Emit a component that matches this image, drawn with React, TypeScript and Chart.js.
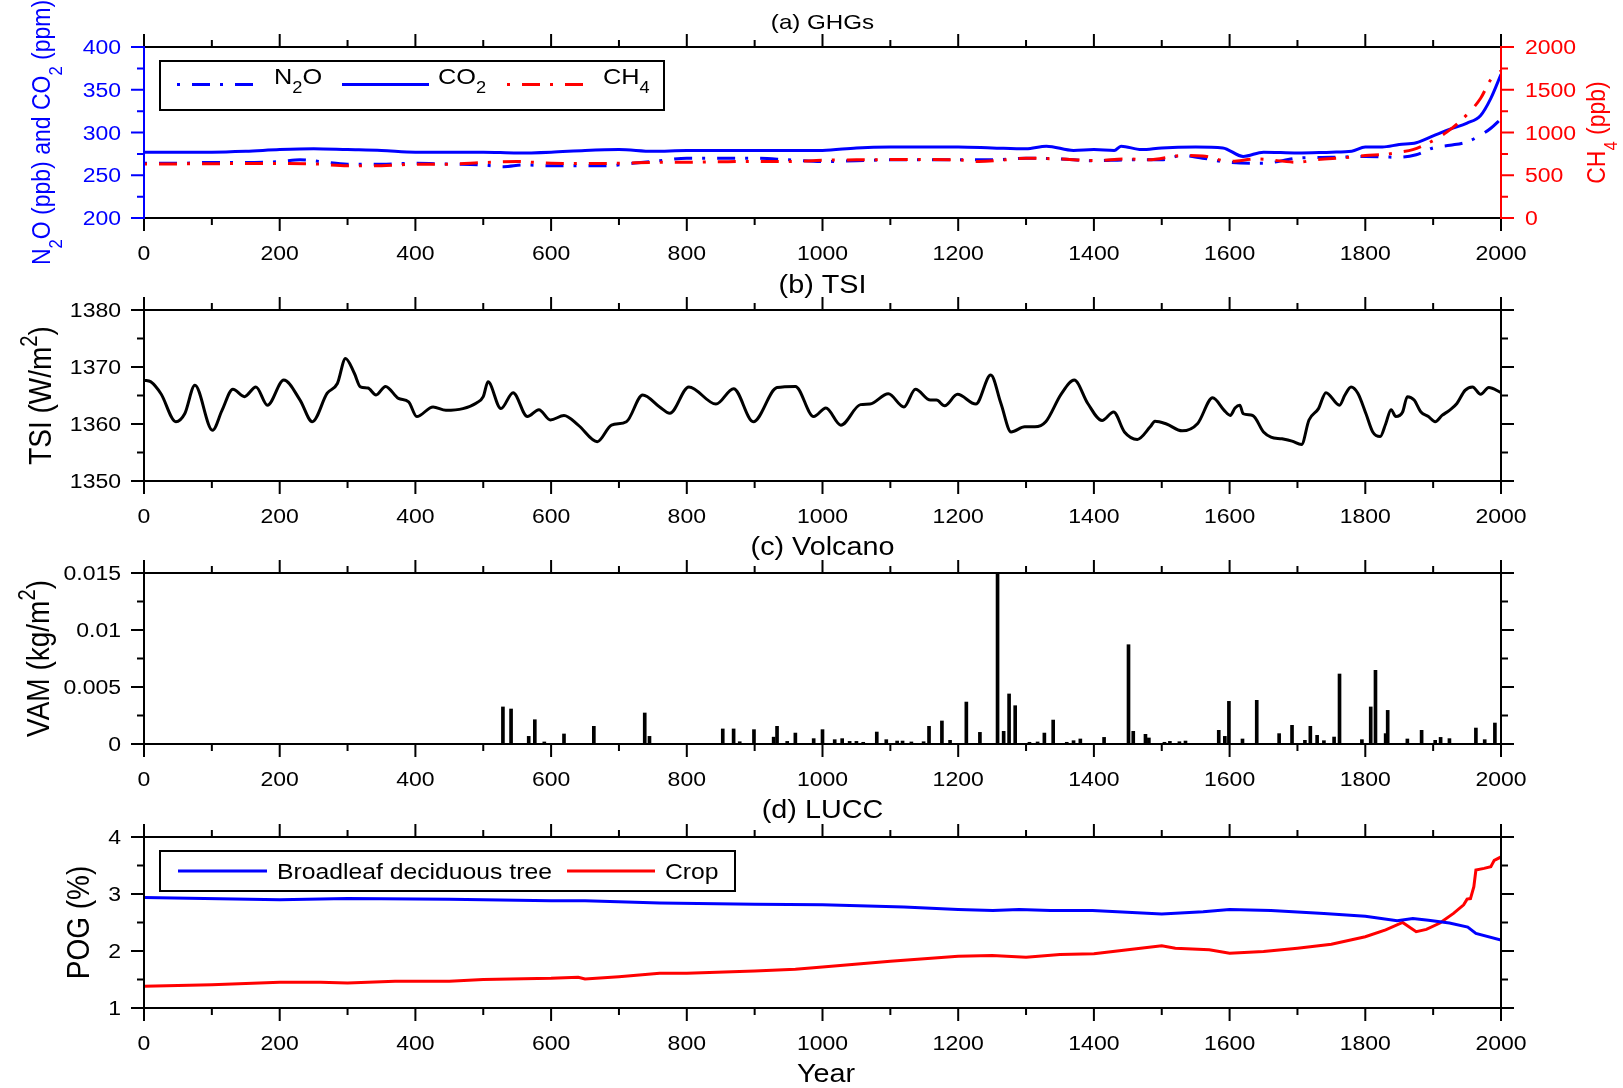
import React, { useEffect, useRef } from "react";
import { Chart, registerables } from "chart.js";
Chart.register(...registerables);

// ---------------- data ----------------
const co2Years = [0, 50, 100, 150, 200, 250, 300, 350, 400, 450, 500, 550, 600, 650, 700, 750, 800, 850, 900, 950, 1000, 1050, 1100, 1150, 1200, 1250, 1300, 1330, 1370, 1400, 1430, 1440, 1470, 1500, 1550, 1590, 1620, 1650, 1700, 1750, 1780, 1800, 1825, 1850, 1875, 1900, 1925, 1950, 1970, 1985, 2000];
const co2Values = [277, 277, 277, 278, 280, 281, 280, 279, 277, 277, 277, 276, 277, 279, 280, 278, 279, 279, 279, 279, 279, 282, 283, 283, 283, 282, 281, 284, 279, 280, 279, 284, 280, 282, 283, 282, 272, 277, 276, 277, 278, 283, 283, 286, 288, 296, 304, 311, 320, 340, 368];

const n2oYears = [0, 50, 100, 150, 200, 230, 260, 300, 350, 400, 450, 500, 530, 560, 600, 650, 680, 720, 760, 800, 850, 900, 950, 1000, 1050, 1100, 1150, 1200, 1250, 1300, 1350, 1400, 1450, 1500, 1530, 1560, 1600, 1650, 1700, 1750, 1800, 1850, 1875, 1900, 1925, 1950, 1970, 1985, 2000];
const n2oValues = [264, 264, 265, 265, 266, 268, 266, 263, 263, 264, 263, 262, 260, 262, 261, 261, 261, 264, 267, 270, 270, 270, 268, 266, 267, 268, 268, 268, 268, 270, 269, 267, 268, 268, 273, 270, 265, 264, 270, 271, 272, 271, 274, 282, 285, 289, 297, 305, 316];

const ch4Years = [0, 50, 100, 150, 200, 250, 300, 350, 400, 450, 500, 550, 600, 650, 700, 750, 800, 850, 900, 950, 1000, 1050, 1100, 1150, 1200, 1230, 1270, 1300, 1350, 1400, 1450, 1480, 1530, 1560, 1600, 1640, 1700, 1730, 1770, 1800, 1830, 1850, 1870, 1900, 1920, 1950, 1970, 1985, 2000];
const ch4Values = [633, 633, 635, 638, 638, 633, 612, 612, 630, 630, 648, 660, 640, 638, 640, 650, 652, 658, 662, 660, 675, 680, 683, 683, 680, 660, 680, 700, 690, 672, 690, 680, 730, 725, 663, 690, 652, 684, 705, 730, 745, 770, 800, 906, 1004, 1210, 1400, 1620, 1720];

const tsiYears = [0, 10, 25, 47, 60, 75, 101, 115, 131, 148, 165, 182, 206, 230, 248, 270, 285, 297, 310, 319, 330, 342, 356, 375, 390, 402, 426, 445, 470, 490, 500, 507, 526, 544, 565, 582, 599, 619, 640, 668, 689, 711, 735, 760, 775, 803, 843, 869, 898, 933, 960, 987, 1005, 1027, 1056, 1070, 1097, 1120, 1137, 1159, 1168, 1180, 1199, 1226, 1248, 1263, 1278, 1298, 1313, 1329, 1352, 1371, 1391, 1412, 1429, 1445, 1464, 1483, 1490, 1507, 1530, 1553, 1575, 1592, 1601, 1608, 1615, 1620, 1634, 1650, 1661, 1677, 1692, 1706, 1717, 1731, 1742, 1762, 1770, 1779, 1789, 1801, 1811, 1822, 1830, 1838, 1845, 1855, 1862, 1872, 1882, 1893, 1903, 1913, 1924, 1935, 1947, 1958, 1970, 1982, 2000];
const tsiValues = [1367.7, 1367.4, 1365.3, 1360.4, 1361.8, 1366.8, 1358.9, 1362.4, 1366.1, 1364.8, 1366.5, 1363.3, 1367.7, 1364.2, 1360.4, 1365.4, 1367.1, 1371.5, 1368.9, 1366.5, 1366.3, 1365.1, 1366.6, 1364.5, 1363.9, 1361.3, 1363.0, 1362.4, 1362.7, 1363.7, 1364.8, 1367.4, 1362.7, 1365.5, 1361.3, 1362.5, 1360.7, 1361.5, 1359.8, 1356.9, 1359.8, 1360.4, 1365.1, 1363.0, 1361.9, 1366.5, 1363.5, 1366.2, 1360.4, 1366.4, 1366.6, 1361.3, 1362.8, 1359.8, 1363.4, 1363.5, 1365.3, 1363.0, 1366.1, 1364.2, 1364.2, 1363.2, 1365.2, 1363.5, 1368.6, 1363.6, 1358.6, 1359.5, 1359.5, 1360.4, 1365.3, 1367.7, 1363.6, 1360.6, 1362.1, 1358.6, 1357.3, 1359.5, 1360.5, 1360.0, 1358.8, 1360.1, 1364.6, 1362.4, 1361.5, 1362.8, 1363.3, 1361.8, 1361.5, 1358.6, 1357.7, 1357.4, 1357.0, 1356.4, 1360.7, 1362.7, 1365.5, 1363.3, 1365.1, 1366.5, 1365.4, 1361.8, 1358.6, 1357.8, 1360.0, 1362.5, 1361.3, 1362.1, 1364.8, 1364.2, 1362.1, 1361.3, 1360.4, 1361.5, 1362.4, 1363.6, 1365.9, 1366.5, 1365.2, 1366.4, 1365.5];

const volcYears = [529, 541, 567, 576, 590, 619, 663, 738, 745, 853, 869, 878, 899, 928, 933, 948, 960, 987, 1000, 1018, 1029, 1040, 1050, 1060, 1080, 1094, 1110, 1118, 1131, 1149, 1157, 1176, 1188, 1212, 1232, 1258, 1267, 1275, 1284, 1305, 1317, 1327, 1340, 1360, 1370, 1380, 1415, 1451, 1458, 1476, 1481, 1504, 1512, 1526, 1535, 1584, 1593, 1599, 1619, 1640, 1673, 1692, 1711, 1719, 1729, 1739, 1754, 1762, 1795, 1808, 1815, 1830, 1833, 1862, 1883, 1903, 1911, 1924, 1963, 1976, 1991];
const volcValues = [0.00325, 0.00307, 0.00067, 0.00213, 0.00018, 0.00088, 0.00155, 0.00272, 0.00067, 0.00132, 0.00132, 0.0002, 0.00126, 0.0006, 0.00155, 0.00023, 0.00096, 0.00047, 0.00126, 0.00038, 0.00047, 0.00023, 0.00023, 0.00015, 0.00105, 0.00038, 0.00026, 0.00026, 0.00018, 0.0002, 0.00155, 0.00202, 0.00032, 0.00368, 0.00102, 0.015, 0.00111, 0.00439, 0.00336, 0.00015, 0.00018, 0.00096, 0.0021, 0.00015, 0.00029, 0.00044, 0.00058, 0.00871, 0.00111, 0.00085, 0.00053, 0.00015, 0.00023, 0.0002, 0.00026, 0.0012, 0.00067, 0.00374, 0.00044, 0.00383, 0.00091, 0.00164, 0.00032, 0.00155, 0.00076, 0.00029, 0.00061, 0.00614, 0.00038, 0.00325, 0.00646, 0.00091, 0.00295, 0.00044, 0.0012, 0.00032, 0.00058, 0.00047, 0.0014, 0.00038, 0.00184];

const treeYears = [0, 200, 300, 450, 600, 650, 760, 900, 1000, 1120, 1200, 1251, 1290, 1336, 1398, 1500, 1561, 1600, 1661, 1739, 1800, 1847, 1870, 1893, 1924, 1951, 1963, 2000];
const treeValues = [2.94, 2.90, 2.92, 2.91, 2.88, 2.88, 2.84, 2.82, 2.81, 2.77, 2.73, 2.71, 2.73, 2.71, 2.71, 2.65, 2.69, 2.73, 2.71, 2.66, 2.61, 2.53, 2.57, 2.54, 2.49, 2.42, 2.31, 2.19];

const cropYears = [0, 100, 200, 260, 300, 370, 450, 500, 600, 640, 650, 700, 760, 800, 900, 960, 1000, 1100, 1200, 1250, 1300, 1350, 1400, 1450, 1500, 1520, 1570, 1600, 1650, 1700, 1750, 1800, 1830, 1855, 1875, 1890, 1910, 1930, 1945, 1950, 1955, 1960, 1963, 1975, 1985, 1990, 2000];
const cropValues = [1.38, 1.41, 1.45, 1.45, 1.44, 1.47, 1.47, 1.50, 1.52, 1.54, 1.51, 1.55, 1.61, 1.61, 1.65, 1.68, 1.72, 1.82, 1.91, 1.92, 1.89, 1.94, 1.95, 2.02, 2.09, 2.05, 2.02, 1.96, 1.99, 2.05, 2.12, 2.25, 2.37, 2.50, 2.34, 2.38, 2.49, 2.66, 2.81, 2.91, 2.92, 3.13, 3.42, 3.45, 3.48, 3.59, 3.65];

// ---------------- layout / style ----------------
type Seg = { t: string; s?: "sub" | "sup" };
const FONT = '"Liberation Sans", Arial, Helvetica, sans-serif';
const SX = 1.15;
const CW = 1623;
const LEFT_W = 144;
const RIGHT_W = 122;
const TOP_PAD = 47;
const PLOT_H = 171;
const BLUE = "#0000ff";
const RED = "#ff0000";
const DASH = [3, 12, 18, 10];

function pts(xs: number[], ys: number[]) {
  return xs.map((x, i) => ({ x, y: ys[i] }));
}

function fmt(v: number) {
  return String(parseFloat(v.toPrecision(6)));
}

function drawRich(ctx: any, segs: Seg[], x: number, y: number, size: number, color: string, align: string, rotate: boolean) {
  ctx.save();
  ctx.translate(x, y);
  ctx.scale(SX, 1);
  if (rotate) ctx.rotate(-Math.PI / 2);
  ctx.fillStyle = color;
  ctx.textBaseline = "alphabetic";
  ctx.textAlign = "left";
  const parts = segs.map((sg) => {
    const fs = sg.s ? size * 0.72 : size;
    ctx.font = `${fs}px ${FONT}`;
    return { sg, fs, w: ctx.measureText(sg.t).width };
  });
  const total = parts.reduce((a, p) => a + p.w, 0);
  let u = align === "left" ? 0 : align === "center" ? -total / 2 : -total;
  for (const p of parts) {
    ctx.font = `${p.fs}px ${FONT}`;
    const dy = p.sg.s === "sub" ? size * 0.45 : p.sg.s === "sup" ? -size * 0.45 : 0;
    ctx.fillText(p.sg.t, u, dy);
    u += p.w;
  }
  ctx.restore();
}

function drawTicks(ctx: any, scale: any, side: string, color: string, ca: any) {
  const vals = scale.ticks.map((t: any) => t.value);
  const items: [number, number][] = [];
  vals.forEach((v: number, i: number) => {
    items.push([v, 13]);
    if (i < vals.length - 1) items.push([(v + vals[i + 1]) / 2, 7]);
  });
  ctx.save();
  ctx.strokeStyle = color;
  ctx.lineWidth = 2;
  ctx.setLineDash([]);
  ctx.beginPath();
  for (const [v, len] of items) {
    const p = scale.getPixelForValue(v);
    if (side === "top") { ctx.moveTo(p, ca.top); ctx.lineTo(p, ca.top - len); }
    if (side === "bottom") { ctx.moveTo(p, ca.bottom); ctx.lineTo(p, ca.bottom + len); }
    if (side === "left") { ctx.moveTo(ca.left, p); ctx.lineTo(ca.left - len, p); }
    if (side === "right") { ctx.moveTo(ca.right, p); ctx.lineTo(ca.right + len, p); }
  }
  ctx.stroke();
  ctx.restore();
}

function decorPlugin(d: any) {
  return {
    id: "decor",
    afterDraw(chart: any) {
      const ctx = chart.ctx;
      const ca = chart.chartArea;
      const xs = chart.scales.x;
      const ys = chart.scales.y;
      const y2 = chart.scales.y2;
      const lc = d.leftColor || "#000";
      const rc = d.rightColor || "#000";
      drawTicks(ctx, xs, "top", "#000", ca);
      drawTicks(ctx, xs, "bottom", "#000", ca);
      drawTicks(ctx, ys, "left", lc, ca);
      drawTicks(ctx, y2 || ys, "right", rc, ca);
      ctx.save();
      ctx.lineWidth = 2;
      ctx.setLineDash([]);
      ctx.strokeStyle = "#000";
      ctx.beginPath();
      ctx.moveTo(ca.left, ca.top); ctx.lineTo(ca.right, ca.top);
      ctx.moveTo(ca.left, ca.bottom); ctx.lineTo(ca.right, ca.bottom);
      ctx.stroke();
      ctx.strokeStyle = lc;
      ctx.beginPath(); ctx.moveTo(ca.left, ca.top - 1); ctx.lineTo(ca.left, ca.bottom + 1); ctx.stroke();
      ctx.strokeStyle = rc;
      ctx.beginPath(); ctx.moveTo(ca.right, ca.top - 1); ctx.lineTo(ca.right, ca.bottom + 1); ctx.stroke();
      ctx.restore();

      xs.ticks.forEach((t: any) =>
        drawRich(ctx, [{ t: fmt(t.value) }], xs.getPixelForValue(t.value), ca.bottom + 42, 20, "#000", "center", false));
      ys.ticks.forEach((t: any) =>
        drawRich(ctx, [{ t: fmt(t.value) }], ca.left - 23, ys.getPixelForValue(t.value) + 7.2, 20, lc, "right", false));
      if (y2)
        y2.ticks.forEach((t: any) =>
          drawRich(ctx, [{ t: fmt(t.value) }], ca.right + 24, y2.getPixelForValue(t.value) + 7.2, 20, rc, "left", false));

      const cy = (ca.top + ca.bottom) / 2;
      drawRich(ctx, d.title, (ca.left + ca.right) / 2, d.titleY, d.titleSize, "#000", "center", false);
      drawRich(ctx, d.yTitle, d.yTitleX, cy, d.yTitleSize, lc, "center", true);
      if (d.y2Title) drawRich(ctx, d.y2Title, d.y2TitleX, cy, d.yTitleSize, rc, "center", true);
      if (d.xTitle) drawRich(ctx, d.xTitle, d.xTitleX, d.xTitleY, d.xTitleSize, "#000", "center", false);

      if (d.legend) {
        const L = d.legend;
        ctx.save();
        ctx.fillStyle = "#fff";
        ctx.fillRect(L.x, L.y, L.w, L.h);
        ctx.strokeStyle = "#000";
        ctx.lineWidth = 2;
        ctx.setLineDash([]);
        ctx.strokeRect(L.x, L.y, L.w, L.h);
        for (const it of L.items) {
          const ds = chart.data.datasets[it.ds];
          ctx.strokeStyle = ds.borderColor;
          ctx.lineWidth = 3;
          ctx.lineCap = "butt";
          ctx.setLineDash(ds.borderDash || []);
          ctx.beginPath();
          ctx.moveTo(it.x1, L.lineY);
          ctx.lineTo(it.x2, L.lineY);
          ctx.stroke();
          ctx.setLineDash([]);
          drawRich(ctx, it.segs, it.tx, L.textY, L.size, "#000", "left", false);
        }
        ctx.restore();
      }
    },
  };
}

function baseScales(h: number, yMin: number, yMax: number, yStep: number, withY2?: any) {
  const s: any = {
    x: {
      type: "linear", min: 0, max: 2000, offset: false,
      ticks: { display: false, stepSize: 200 },
      grid: { display: false }, border: { display: false },
      afterFit: (sc: any) => { sc.height = h - TOP_PAD - PLOT_H; },
    },
    y: {
      type: "linear", position: "left", min: yMin, max: yMax,
      ticks: { display: false, stepSize: yStep },
      grid: { display: false }, border: { display: false },
      afterFit: (sc: any) => { sc.width = LEFT_W; },
    },
  };
  if (withY2) {
    s.y2 = {
      type: "linear", position: "right", min: withY2.min, max: withY2.max,
      ticks: { display: false, stepSize: withY2.step },
      grid: { display: false }, border: { display: false },
      afterFit: (sc: any) => { sc.width = RIGHT_W; },
    };
  }
  return s;
}

function baseOptions(h: number, scales: any, hasY2: boolean) {
  return {
    animation: false,
    responsive: false,
    maintainAspectRatio: false,
    layout: { padding: { top: TOP_PAD, left: 0, right: hasY2 ? 0 : RIGHT_W, bottom: 0 } },
    plugins: { legend: { display: false }, tooltip: { enabled: false }, title: { display: false } },
    scales,
  };
}

const lineDs = (label: string, xs: number[], ys: number[], color: string, extra: any = {}) => ({
  label, data: pts(xs, ys), borderColor: color, backgroundColor: color, borderWidth: 3,
  pointRadius: 0, fill: false, ...extra,
});

const panels: any[] = [
  {
    top: 0, h: 263,
    make: (h: number) => ({
      type: "line",
      data: {
        datasets: [
          lineDs("CH4", ch4Years, ch4Values, RED, { yAxisID: "y2", borderDash: DASH, cubicInterpolationMode: "monotone" }),
          lineDs("CO2", co2Years, co2Values, BLUE, { yAxisID: "y", cubicInterpolationMode: "monotone" }),
          lineDs("N2O", n2oYears, n2oValues, BLUE, { yAxisID: "y", borderDash: DASH, cubicInterpolationMode: "monotone" }),
        ],
      },
      options: baseOptions(h, baseScales(h, 200, 400, 50, { min: 0, max: 2000, step: 500 }), true),
    }),
    decor: {
      leftColor: BLUE, rightColor: RED,
      title: [{ t: "(a) GHGs" }], titleY: 29, titleSize: 21,
      yTitle: [{ t: "N" }, { t: "2", s: "sub" }, { t: "O (ppb) and CO" }, { t: "2", s: "sub" }, { t: " (ppm)" }],
      yTitleX: 50, yTitleSize: 23,
      y2Title: [{ t: "CH" }, { t: "4", s: "sub" }, { t: " (ppb)" }], y2TitleX: 1605,
      legend: {
        x: 160, y: 61, w: 504, h: 49, lineY: 84.5, textY: 83.5, size: 22,
        items: [
          { ds: 2, x1: 177, x2: 255, tx: 274, segs: [{ t: "N" }, { t: "2", s: "sub" }, { t: "O" }] },
          { ds: 1, x1: 342, x2: 429, tx: 438, segs: [{ t: "CO" }, { t: "2", s: "sub" }] },
          { ds: 0, x1: 507, x2: 583, tx: 603, segs: [{ t: "CH" }, { t: "4", s: "sub" }] },
        ],
      },
    },
  },
  {
    top: 263, h: 263,
    make: (h: number) => ({
      type: "line",
      data: { datasets: [lineDs("TSI", tsiYears, tsiValues, "#000", { cubicInterpolationMode: "monotone" })] },
      options: baseOptions(h, baseScales(h, 1350, 1380, 10), false),
    }),
    decor: {
      title: [{ t: "(b) TSI" }], titleY: 30, titleSize: 25,
      yTitle: [{ t: "TSI (W/m" }, { t: "2", s: "sup" }, { t: ")" }], yTitleX: 51, yTitleSize: 28,
    },
  },
  {
    top: 526, h: 264,
    make: (h: number) => ({
      type: "bar",
      data: {
        datasets: [{
          label: "VAM", data: pts(volcYears, volcValues), backgroundColor: "#000", borderWidth: 0,
          barThickness: 3, grouped: false,
        }],
      },
      options: baseOptions(h, baseScales(h, 0, 0.015, 0.005), false),
    }),
    decor: {
      title: [{ t: "(c) Volcano" }], titleY: 29, titleSize: 25,
      yTitle: [{ t: "VAM (kg/m" }, { t: "2", s: "sup" }, { t: ")" }], yTitleX: 49, yTitleSize: 28,
    },
  },
  {
    top: 790, h: 298,
    make: (h: number) => ({
      type: "line",
      data: {
        datasets: [
          lineDs("Broadleaf deciduous tree", treeYears, treeValues, BLUE),
          lineDs("Crop", cropYears, cropValues, RED),
        ],
      },
      options: baseOptions(h, baseScales(h, 1, 4, 1), false),
    }),
    decor: {
      title: [{ t: "(d) LUCC" }], titleY: 28, titleSize: 25,
      yTitle: [{ t: "POG (%)" }], yTitleX: 89, yTitleSize: 28,
      xTitle: [{ t: "Year" }], xTitleX: 826, xTitleY: 291.5, xTitleSize: 25,
      legend: {
        x: 160, y: 61, w: 575, h: 40, lineY: 81, textY: 89, size: 21.5,
        items: [
          { ds: 0, x1: 178, x2: 267, tx: 277, segs: [{ t: "Broadleaf deciduous tree" }] },
          { ds: 1, x1: 567, x2: 655, tx: 665, segs: [{ t: "Crop" }] },
        ],
      },
    },
  },
];

function Panel({ p }: { p: any }) {
  const ref = useRef<HTMLCanvasElement>(null);
  useEffect(() => {
    const cfg = p.make(p.h);
    cfg.plugins = [decorPlugin(p.decor)];
    const chart = new Chart(ref.current as HTMLCanvasElement, cfg);
    return () => chart.destroy();
  }, []);
  return (
    <canvas
      ref={ref}
      width={CW}
      height={p.h}
      style={{ position: "absolute", left: 0, top: p.top, width: CW, height: p.h }}
    />
  );
}

export default function App() {
  return (
    <div style={{ position: "absolute", left: 0, top: 0, width: CW, height: 1088, background: "#fff", overflow: "hidden" }}>
      {panels.map((p, i) => (
        <Panel key={i} p={p} />
      ))}
    </div>
  );
}
